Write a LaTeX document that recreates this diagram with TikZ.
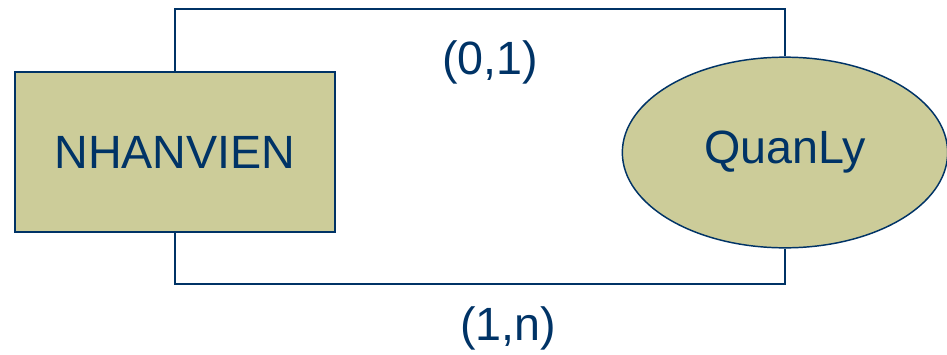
\documentclass[tikz,border=0pt]{standalone}
\usepackage{fontspec}
\setmainfont{Liberation Sans}
\usetikzlibrary{shapes.geometric}
\definecolor{khaki}{RGB}{204,204,153}
\definecolor{navy}{RGB}{0,51,102}
\tikzset{
  entity/.style={draw=navy,fill=khaki,line width=1.4pt,minimum width=240pt,minimum height=120pt,inner sep=0pt},
  relation/.style={ellipse,draw=navy,fill=khaki,line width=1.1pt,minimum width=244pt,minimum height=143pt,inner sep=0pt},
  card/.style={text=navy,inner sep=0pt},
  link/.style={draw=navy,line width=1.4pt}
}
\begin{document}
\begin{tikzpicture}[x=0.75pt,y=-0.75pt,font=\fontsize{35}{40}\selectfont,text=navy]
  \useasboundingbox (0,0) rectangle (947,354);

  \node [entity] (nv) at (175,152) {NHANVIEN};
  \node [relation] (ql) at (785,152.5) {QuanLy};

  \draw [link] (nv.north) -- ++(0,-62) -| (ql.north);
  \draw [link] (nv.south) -- ++(0,51) -| (ql.south);

  \node [card] (top) at (490,62) {(0,1)};
  \node [card] (bot) at (508,328) {(1,n)};

\end{tikzpicture}
\end{document}
